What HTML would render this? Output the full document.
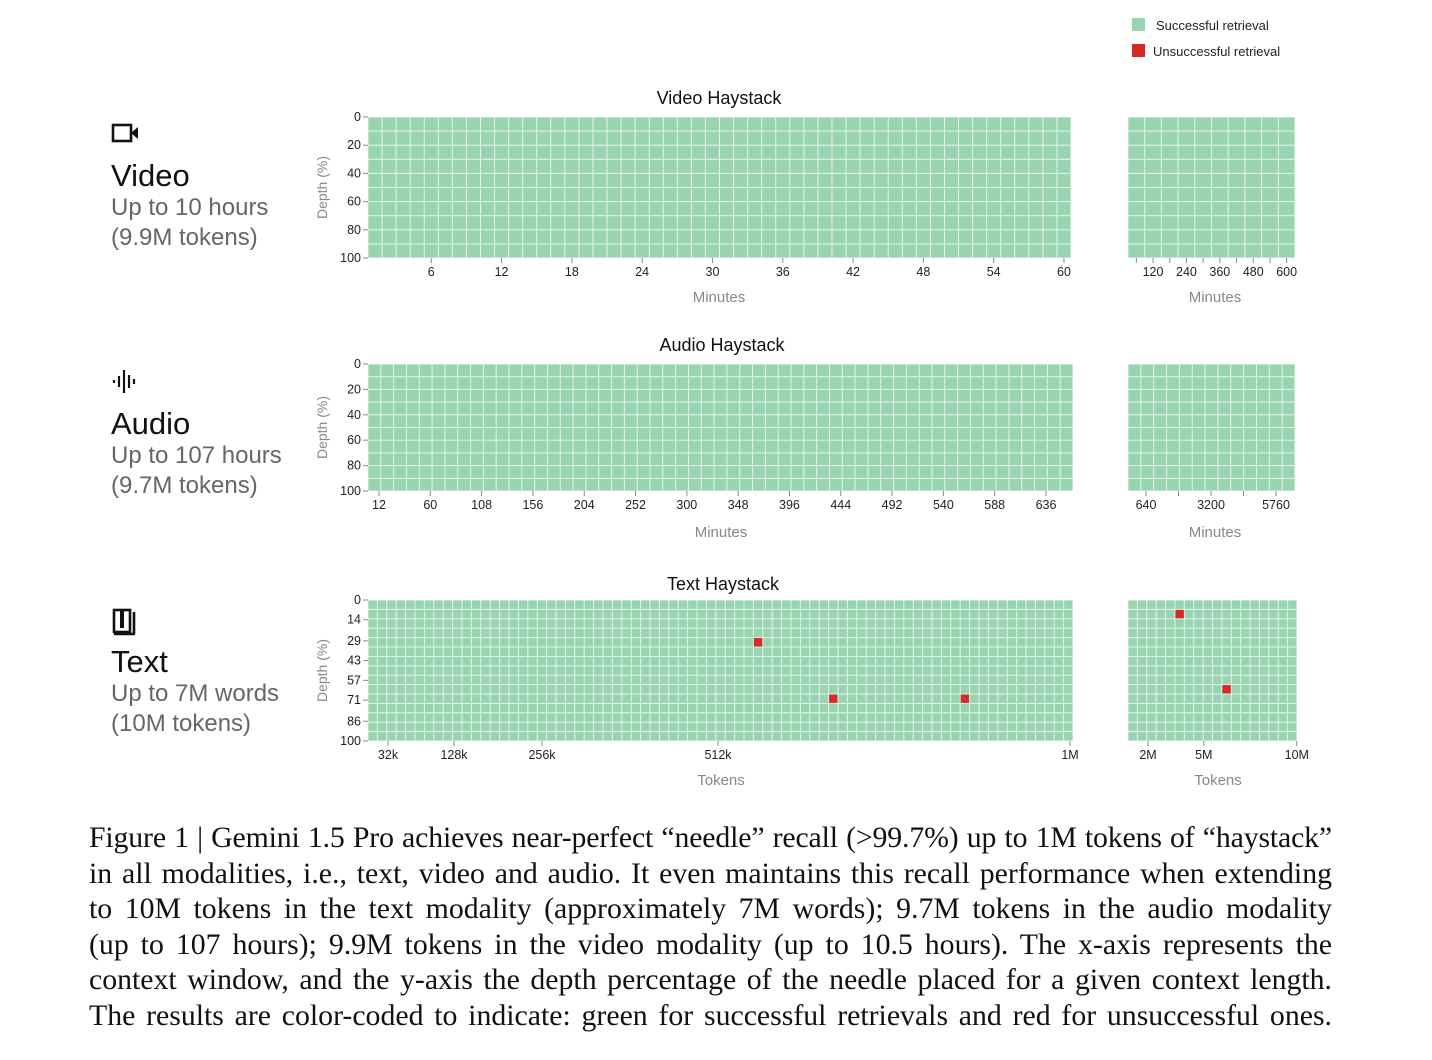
<!DOCTYPE html>
<html><head><meta charset="utf-8"><style>
body{margin:0;background:#fff;width:1432px;height:1060px;overflow:hidden;position:relative;font-family:"Liberation Sans",sans-serif}
#cap{position:absolute;left:89px;top:820px;width:1243px;font-family:"Liberation Serif",serif;font-size:29.8px;line-height:35.6px;color:#111}
#cap div{text-align:justify;text-align-last:justify;white-space:nowrap}
#cap div.l1{letter-spacing:-0.15px}
.side{position:absolute;left:111px;color:#111}
.side .t{font-size:31px;line-height:34px}
.side .s{font-size:24px;line-height:30px;color:#666}
</style></head><body>
<svg id="chart" width="1432" height="810" style="position:absolute;left:0;top:0" font-family="Liberation Sans, sans-serif"></svg>
<div class="side" style="top:120px">
<svg width="30" height="26"><rect x="2" y="5" width="18" height="16" fill="none" stroke="#111" stroke-width="2.6"/><polygon points="20,13 27,7 27,19" fill="#111"/></svg>
<div class="t" style="margin-top:8px">Video</div><div class="s">Up to 10 hours<br>(9.9M tokens)</div></div>
<div class="side" style="top:368px">
<svg width="30" height="26"><g stroke="#111" stroke-width="2.2"><line x1="3" y1="12" x2="3" y2="15"/><line x1="8" y1="8" x2="8" y2="19"/><line x1="13" y1="2" x2="13" y2="25"/><line x1="18" y1="7" x2="18" y2="20"/><line x1="23" y1="11" x2="23" y2="16"/></g></svg>
<div class="t" style="margin-top:8px">Audio</div><div class="s">Up to 107 hours<br>(9.7M tokens)</div></div>
<div class="side" style="top:606px">
<svg width="30" height="30"><rect x="3" y="4" width="16" height="22" fill="none" stroke="#111" stroke-width="2.6"/><rect x="9" y="4" width="4" height="18" fill="#111"/><line x1="23" y1="6" x2="23" y2="28" stroke="#111" stroke-width="2.6"/><line x1="3" y1="28" x2="24" y2="28" stroke="#111" stroke-width="2.6"/></svg>
<div class="t" style="margin-top:4px">Text</div><div class="s">Up to 7M words<br>(10M tokens)</div></div>
<div id="cap">
<div class="l1">Figure 1 | Gemini 1.5 Pro achieves near-perfect “needle” recall (&gt;99.7%) up to 1M tokens of “haystack”</div>
<div>in all modalities, i.e., text, video and audio. It even maintains this recall performance when extending</div>
<div>to 10M tokens in the text modality (approximately 7M words); 9.7M tokens in the audio modality</div>
<div>(up to 107 hours); 9.9M tokens in the video modality (up to 10.5 hours). The x-axis represents the</div>
<div>context window, and the y-axis the depth percentage of the needle placed for a given context length.</div>
<div>The results are color-coded to indicate: green for successful retrievals and red for unsuccessful ones.</div>
</div>
<script>
const videoMainTicks=[6,12,18,24,30,36,42,48,54,60];
const videoRightTicks=[120,240,360,480,600];
const audioMainTicks=[12,60,108,156,204,252,300,348,396,444,492,540,588,636];
const audioRightTicks=[640,3200,5760];
const textMainTicks=[32,128,256,512,1024];
const textMainTickLabels=["32k","128k","256k","512k","1M"];
const textRightTicks=[2,5,10];
const textRightTickLabels=["2M","5M","10M"];
const videoDepthTicks=[0,20,40,60,80,100];
const audioDepthTicks=[0,20,40,60,80,100];
const textDepthTicks=[0,14,29,43,57,71,86,100];
// failures: [column,row]
const textMainFails=[[41,4],[49,10],[63,10]];
const textRightFails=[[5,1],[10,9]];
const videoFails=[];const audioFails=[];

const svg=document.getElementById('chart');const NS='http://www.w3.org/2000/svg';
function mk(tag,attrs,parent){const e=document.createElementNS(NS,tag);for(const k in attrs)e.setAttribute(k,attrs[k]);(parent||svg).appendChild(e);return e;}
function txt(s,x,y,size,fill,anchor,name){const t=mk('text',{x:x,y:y,'font-size':size,fill:fill,'text-anchor':anchor||'middle'});t.textContent=s;


return t;}
function heat(name,x0,x1,y0,y1,cols,rows,fails){
 const g=mk('g',{});
 
 
 const cw=(x1-x0)/cols,ch=(y1-y0)/rows;
 mk('rect',{x:x0,y:y0,width:x1-x0,height:y1-y0,fill:'#e6f4ec'},g);
 for(let c=0;c<cols;c++)for(let r=0;r<rows;r++){
  const r2=mk('rect',{x:x0+c*cw+0.5,y:y0+r*ch+0.5,width:cw-1,height:ch-1,fill:'#98d4b0'},g);
  
  
 }
 fails.forEach(f=>{const r2=mk('rect',{x:x0+f[0]*cw+0.5,y:y0+f[1]*ch+0.5,width:cw-1,height:ch-1,fill:'#d42a2a'},g);
  
  });
}
function xticks(vals,labels,scale,yb,minor){
 vals.forEach((v,i)=>{const x=scale(v);mk('line',{x1:x,x2:x,y1:yb,y2:yb+5,stroke:'#888'});
  txt(labels?labels[i]:String(v),x,yb+18,12.5,'#222','middle','x-tick-label');});
 (minor||[]).forEach(v=>{const x=scale(v);mk('line',{x1:x,x2:x,y1:yb,y2:yb+5,stroke:'#888'});});
}
function yticks(vals,y0,y1,x0){
 vals.forEach(v=>{const y=y0+(y1-y0)*v/100;mk('line',{x1:x0-5,x2:x0,y1:y,y2:y,stroke:'#888'});
  txt(String(v),x0-7,y+4,12.5,'#222','end','y-tick-label');});
 const cy=(y0+y1)/2;const t=txt('Depth (%)',0,0,14,'#888','middle','y-axis-title');t.setAttribute('transform',`translate(327,${cy}) rotate(-90)`);
}
// Video
txt('Video Haystack',719,104,18,'#111','middle','video-title');
heat('video-main-heatmap',368,1071,117,258,50,10,videoFails);
heat('video-right-heatmap',1128,1295,117,258,10,10,[]);
yticks(videoDepthTicks,117,258,368);
xticks(videoMainTicks,null,v=>368+(v/1.2-0.5)*(703/50),258);
xticks(videoRightTicks,null,v=>1128+(v/60-0.5)*16.7,258,[60,180,300,420,540]);
txt('Minutes',719,302,15,'#888','middle','video-x-title');
txt('Minutes',1215,302,15,'#888','middle','video-right-x-title');
// Audio
txt('Audio Haystack',722,351,18,'#111','middle','audio-title');
heat('audio-main-heatmap',368,1073,364,491,55,10,audioFails);
heat('audio-right-heatmap',1128,1295,364,491,13,10,[]);
yticks(audioDepthTicks,364,491,368);
xticks(audioMainTicks,null,v=>379+(v-12)*(667/624),491);
xticks(audioRightTicks,null,v=>1146+(v-640)*(130/5120),491,[1920,4480]);
txt('Minutes',721,537,15,'#888','middle','audio-x-title');
txt('Minutes',1215,537,15,'#888','middle','audio-right-x-title');
// Text
txt('Text Haystack',723,590,18,'#111','middle','text-title');
heat('text-main-heatmap',368,1073,600,741,75,15,textMainFails);
heat('text-right-heatmap',1128,1297,600,741,18,15,textRightFails);
yticks(textDepthTicks,600,741,368);
xticks(textMainTicks,textMainTickLabels,v=>388+(v-32)*0.6875,741);
xticks(textRightTicks,textRightTickLabels,v=>1148+(v-2)*18.6,741);
txt('Tokens',721,785,15,'#888','middle','text-x-title');
txt('Tokens',1218,785,15,'#888','middle','text-right-x-title');
// Legend
const l1=mk('rect',{x:1132,y:18,width:13,height:13,fill:'#98d4b0'});


txt('Successful retrieval',1156,30,13,'#222','start','legend-success-label');
const l2=mk('rect',{x:1132,y:44,width:13,height:13,fill:'#d42a2a'});


txt('Unsuccessful retrieval',1153,56,13,'#222','start','legend-failure-label');
</script>
</body></html>
